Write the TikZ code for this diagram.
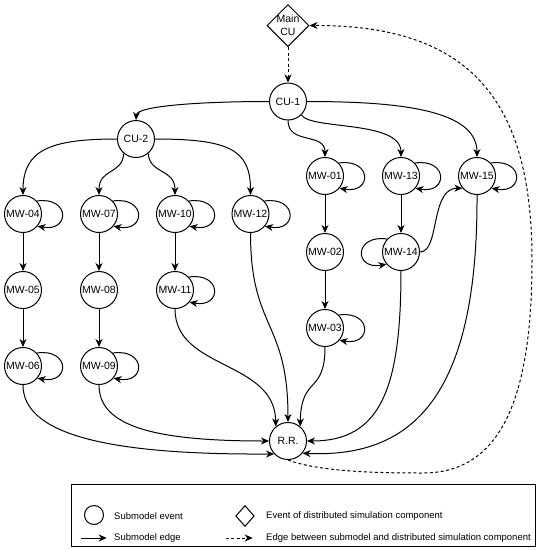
\documentclass[tikz,border=0pt]{standalone}
\usepackage{fontspec}
\setmainfont{Liberation Sans}
\usetikzlibrary{shapes.geometric,arrows.meta}
\begin{document}
\begin{tikzpicture}[x=1pt,y=1pt,
  ev/.style={circle,draw,line width=1pt,minimum size=37pt,inner sep=0pt,font=\fontsize{10.5}{12}\selectfont},
  dcu/.style={diamond,draw,line width=1pt,minimum width=42pt,minimum height=42pt,inner sep=0pt},
  edge/.style={line width=1pt,-{Stealth[length=8pt,width=7pt,inset=2.5pt]}},
  dedge/.style={edge,dash pattern=on 3pt off 2.5pt},
  rloop/.style={to path={.. controls +(33,5) and +(33,-6) .. (\tikztotarget)}},
  lloop/.style={to path={.. controls +(-33,5) and +(-33,-6) .. (\tikztotarget)}},
  lgtext/.style={anchor=west,font=\fontsize{9.5}{11}\selectfont,inner sep=0pt}
]
\useasboundingbox (0,0) rectangle (549,-550);

% nodes
\node[dcu,label={[align=center,font=\fontsize{10.5}{13}\selectfont]center:Main\\CU}] (mcu) at (288,-25.5) {};
\node[ev] (cu1) at (288,-101.5) {CU-1};
\node[ev] (cu2) at (136,-139) {CU-2};
\node[ev] (m04) at (23,-214) {MW-04};
\node[ev] (m07) at (99,-214) {MW-07};
\node[ev] (m10) at (175,-214) {MW-10};
\node[ev] (m12) at (250.5,-214) {MW-12};
\node[ev] (m05) at (23,-290) {MW-05};
\node[ev] (m08) at (99,-290) {MW-08};
\node[ev] (m11) at (175,-290) {MW-11};
\node[ev] (m06) at (23,-366) {MW-06};
\node[ev] (m09) at (99,-366) {MW-09};
\node[ev] (m01) at (325,-176) {MW-01};
\node[ev] (m13) at (401,-176) {MW-13};
\node[ev] (m15) at (477,-176) {MW-15};
\node[ev] (m02) at (325,-252) {MW-02};
\node[ev] (m14) at (401,-252) {MW-14};
\node[ev] (m03) at (325,-328) {MW-03};
\node[ev] (rr) at (288,-441) {R.R.};

% dashed edges
\draw[dedge] (mcu.south) -- (cu1.north);
\coordinate (d1) at (423,-473);
\coordinate (d2) at (532,-260);
\draw[dedge] (rr.south) .. controls (320,-472) and (380,-473) .. (d1)
  .. controls (505,-473) and (532,-390) .. (d2)
  .. controls (532,-100) and (470,-25) .. (mcu.east);

% from CU-1
\draw[edge] (cu1.west) .. controls (200,-101.5) and (137,-106) .. (cu2.north);
\draw[edge] (cu1.east) .. controls (400,-101.5) and (477,-110) .. (m15.north);
\draw[edge] (cu1.south) .. controls (288,-145) and (325,-132) .. (m01.north);
\draw[edge] (cu1.-45) .. controls (310,-130) and (401,-120) .. (m13.north);

% from CU-2
\draw[edge] (cu2.west) .. controls (50,-139) and (23,-150) .. (m04.north);
\draw[edge] (cu2.-130) .. controls (122,-175) and (99,-168) .. (m07.north);
\draw[edge] (cu2.-50) .. controls (150,-175) and (175,-168) .. (m10.north);
\draw[edge] (cu2.east) .. controls (230,-139) and (250.5,-150) .. (m12.north);

% vertical chains
\draw[edge] (m04) -- (m05);
\draw[edge] (m05) -- (m06);
\draw[edge] (m07) -- (m08);
\draw[edge] (m08) -- (m09);
\draw[edge] (m10) -- (m11);
\draw[edge] (m01) -- (m02);
\draw[edge] (m02) -- (m03);
\draw[edge] (m13) -- (m14);

% MW-14 to MW-15
\draw[edge] (m14.east) .. controls (440,-252) and (430,-188) .. (m15.-140);

% self loops
\foreach \n in {m04,m07,m10,m12,m11,m06,m09,m01,m13,m15,m03}
  \draw[edge] (\n.43) to[rloop] (\n.-40);
\draw[edge] (m14.137) to[lloop] (m14.-140);

% into R.R.
\draw[edge] (m11.south) .. controls (175,-370) and (275,-360) .. (rr.130);
\draw[edge] (m12.south) .. controls (250.5,-330) and (288,-320) .. (rr.north);
\draw[edge] (m03.south) .. controls (325,-395) and (301,-375) .. (rr.50);
\draw[edge] (m14.south) .. controls (401,-390) and (380,-441) .. (rr.east);
\draw[edge] (m15.south) .. controls (478,-400) and (410,-458) .. (rr.-40);
\draw[edge] (m09.south) .. controls (99,-425) and (150,-441) .. (rr.west);
\draw[edge] (m06.south) .. controls (23,-435) and (110,-455) .. (rr.-137);

% legend
\draw[line width=1pt] (71,-484.3) rectangle (535,-546.7);
\node[circle,draw,line width=1pt,minimum size=19pt,inner sep=0pt] (lgc) at (94,-515) {};
\node[diamond,draw,line width=1pt,minimum width=18.5pt,minimum height=21pt,inner sep=0pt] (lgd) at (245,-516) {};
\node[lgtext] (t1) at (114,-516) {Submodel event};
\node[lgtext] (t2) at (266,-516) {Event of distributed simulation component};
\coordinate (la1) at (80.7,-538);
\coordinate (la2) at (106.7,-538);
\coordinate (lb1) at (225.7,-538);
\coordinate (lb2) at (252.7,-538);
\draw[edge] (la1) -- (la2);
\draw[dedge] (lb1) -- (lb2);
\node[lgtext] (t3) at (114,-538) {Submodel edge};
\node[lgtext] (t4) at (266,-538) {Edge between submodel and distributed simulation component};
\end{tikzpicture}
\end{document}
